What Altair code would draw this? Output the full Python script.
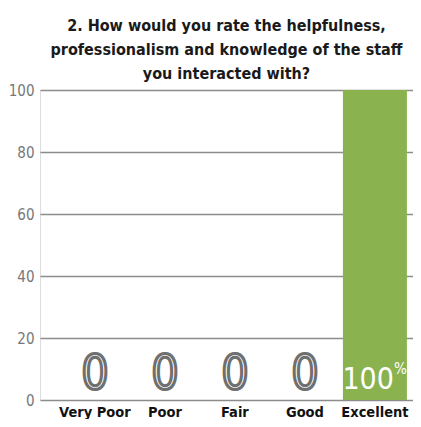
import altair as alt
import pandas as pd

categories = ["Very Poor", "Poor", "Fair", "Good", "Excellent"]
values = [0, 0, 0, 0, 100]
y_ticks = [0, 20, 40, 60, 80, 100]
title_lines = [
    "2. How would you rate the helpfulness,",
    "professionalism and knowledge of the staff",
    "you interacted with?",
]

FONT = "DejaVu Sans Condensed"
GREEN = "#8ab34f"

df = pd.DataFrame({"cat": categories, "val": values})
df["label"] = df["val"].astype(str)

x = alt.X(
    "cat:N",
    sort=categories,
    title=None,
    scale=alt.Scale(paddingInner=0.0857, paddingOuter=0.207, align=0.79),
    axis=alt.Axis(labelAngle=0, labelFont=FONT, labelFontSize=14.5, labelFontWeight="bold",
                  labelColor="#111", ticks=False, domain=False, grid=False, labelPadding=5),
)
y_scale = alt.Scale(domain=[0, 100])

base = alt.Chart(df)

bars = base.mark_bar(color=GREEN).encode(
    x=x,
    y=alt.Y("val:Q", scale=y_scale, title=None,
            axis=alt.Axis(values=y_ticks, labelFont=FONT, labelFontSize=15, labelColor="#777",
                          ticks=False, domain=False, gridColor="#8c8c8c", gridWidth=1.5,
                          labelPadding=6, minExtent=32, maxExtent=32)),
)

zeros = base.transform_filter("datum.val == 0").mark_text(
    font=FONT, fontSize=48, fill="white", stroke="#6f6f6f", strokeWidth=3, baseline="alphabetic"
).encode(x=x, y=alt.datum(3.5, scale=y_scale), text="label:N")

hundred = base.transform_filter("datum.val > 0").mark_text(
    font=FONT, fontSize=30, color="white", baseline="alphabetic", align="right", dx=19
).encode(x=x, y=alt.datum(3.5, scale=y_scale), text="label:N")

pct = base.transform_filter("datum.val > 0").mark_text(
    font=FONT, fontSize=15, color="white", baseline="alphabetic", align="left", dx=19
).encode(x=x, y=alt.datum(8.5, scale=y_scale), text=alt.value("%"))

chart = alt.layer(bars, zeros, hundred, pct).properties(
    width=373,
    height=310,
    padding={"top": 10, "left": 0, "right": 0, "bottom": 0},
    title=alt.Title(title_lines, font=FONT, fontSize=16, fontWeight="bold", color="#1a1a1a",
                    lineHeight=24, anchor="middle", offset=1),
).configure_view(stroke=None).configure(background="white")

chart.save("out.html", embed_options={"renderer": "svg", "actions": False})
